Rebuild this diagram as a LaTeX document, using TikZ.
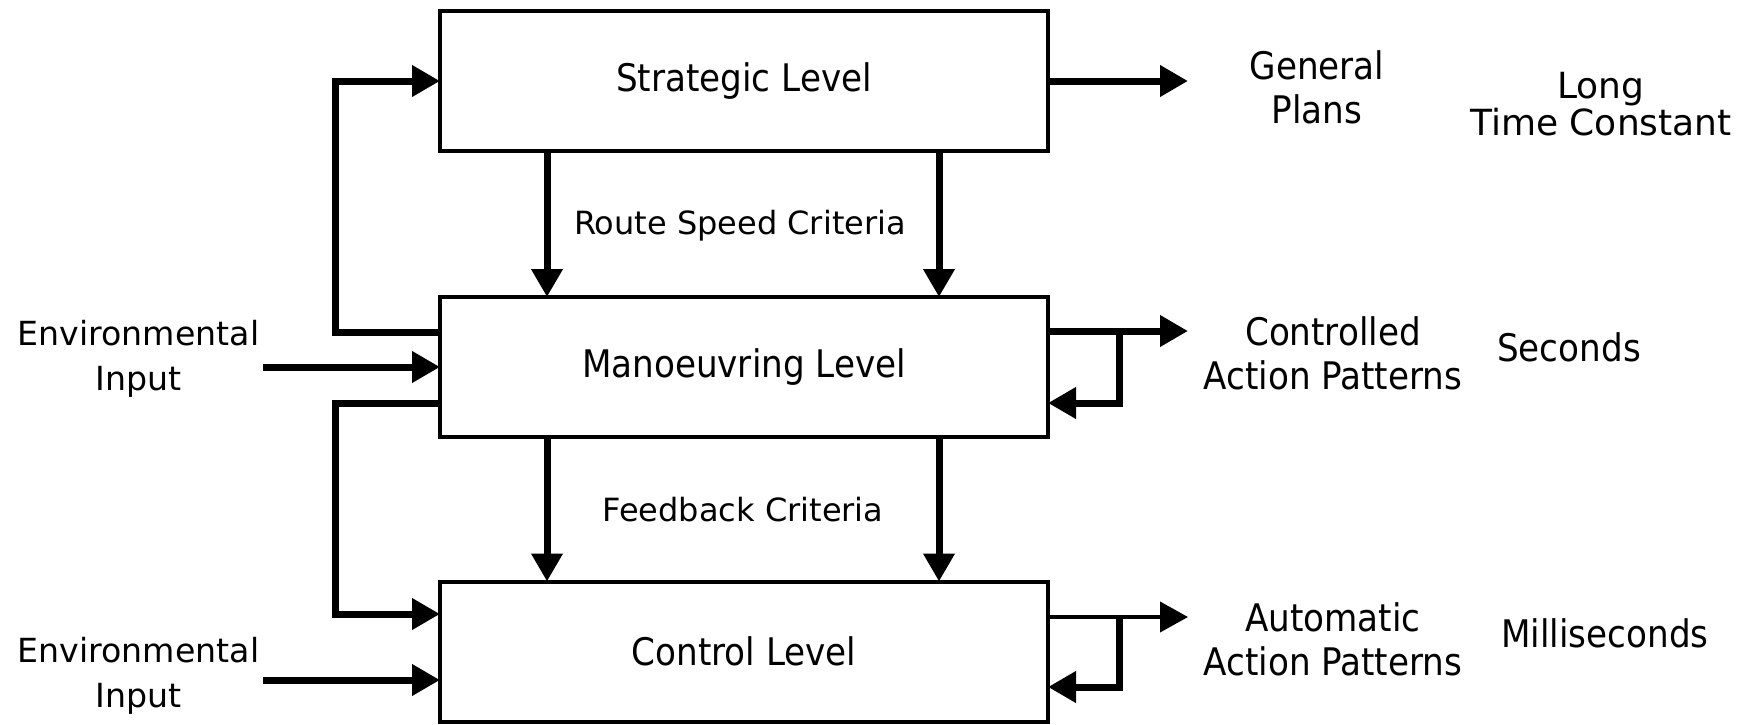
\documentclass[tikz,border=0pt]{standalone}
\usepackage{fontspec}
\setmainfont{DejaVu Sans Condensed}
\newfontfamily\widefont{DejaVu Sans}
\usetikzlibrary{arrows.meta}

\begin{document}
\begin{tikzpicture}[x=0.5pt,y=-0.5pt,
  font=\fontsize{19}{22}\selectfont,
  level/.style={draw, line width=2pt, minimum width=304pt, minimum height=70pt,
                inner sep=0pt, outer sep=0pt, fill=white},
  label/.style={align=center, inner sep=0pt},
  crit/.style={label, font=\widefont\fontsize{16}{19}\selectfont},
  envlabel/.style={label, font=\widefont\fontsize{16.6}{22.5}\selectfont},
  tip/.style={-{Triangle[length=14pt,width=15pt]}},
  heavy/.style={line width=3.5pt},
  flow/.style={heavy, tip},
  thinflow/.style={line width=2pt, tip},
  corner/.style={line join=miter}]

\useasboundingbox (0,0) rectangle (1757,724);

% the three control levels
\node[level] (strat) at (744,81)    {Strategic Level};
\node[level] (man)   at (744,367)   {Manoeuvring Level};
\node[level] (ctl)   at (744,651.5) {Control Level};

% criteria passed downwards
\node[crit] (rsc) at (740,226) {Route Speed Criteria};
\node[crit] (fbc) at (743,510) {Feedback Criteria};

\draw[flow] ([xshift=53.5pt]strat.south west) -- ([xshift=53.5pt]man.north west);
\draw[flow] ([xshift=249.5pt]strat.south west) -- ([xshift=249.5pt]man.north west);
\draw[flow] ([xshift=53.5pt]man.south west) -- ([xshift=53.5pt]ctl.north west);
\draw[flow] ([xshift=249.5pt]man.south west) -- ([xshift=249.5pt]ctl.north west);

% upward feedback bus on the left
\coordinate (bus) at (335,0);
\coordinate (mW1) at ([yshift=17.5pt]man.west);
\coordinate (mW2) at ([yshift=-18pt]man.west);
\coordinate (cW1) at ([yshift=18.75pt]ctl.west);
\coordinate (cW2) at ([yshift=-14.25pt]ctl.west);

\draw[flow, corner] (mW1) -- (mW1 -| bus) |- (strat.west);
\draw[flow, corner] (mW2) -- (mW2 -| bus) |- (cW1);

% environmental inputs
\node[envlabel] (env1) at (138.5,359) {Environmental\\Input};
\node[envlabel] (env2) at (138.5,676) {Environmental\\Input};
\coordinate (e1) at (263,367);
\coordinate (e2) at (263,680);
\draw[flow] (e1) -- (man.west);
\draw[flow] (e2) -- (cW2);

% outputs on the right
\coordinate (loop) at (1119,0);
\coordinate (o1) at (1188,81);
\coordinate (mE1) at ([yshift=18pt]man.east);
\coordinate (mE2) at ([yshift=-18pt]man.east);
\coordinate (cE1) at ([yshift=17.25pt]ctl.east);
\coordinate (cE2) at ([yshift=-17.75pt]ctl.east);
\coordinate (o2) at (1188,331);
\coordinate (o3) at (1188,617);

\draw[flow] (strat.east) -- (o1);

\draw[flow] (mE1) -- (o2);
\draw[flow, corner] (mE1 -| loop) |- (mE2);

\draw[thinflow] (cE1) -- (o3);
\draw[flow, corner] (cE1 -| loop) |- (cE2);

% output descriptions and time scales
\node[label] (gp)  at (1317,87)  {General\\Plans};
\node[label, font=\widefont\fontsize{18}{18.5}\selectfont] (ltc) at (1601,104) {Long\\Time Constant};
\node[label] (cap) at (1333,353.5) {Controlled\\Action Patterns};
\node[label] (sec) at (1569,347) {Seconds};
\node[label] (aap) at (1333,639) {Automatic\\Action Patterns};
\node[label] (ms)  at (1605,633) {Milliseconds};
\end{tikzpicture}
\end{document}
